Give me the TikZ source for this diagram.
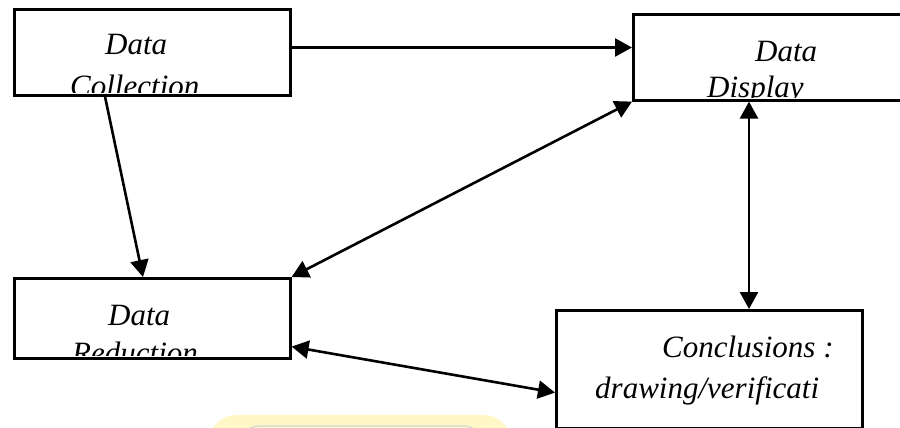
\documentclass[tikz,border=0pt]{standalone}
\usepackage{fontspec}
\setmainfont{Liberation Serif}
\usetikzlibrary{arrows.meta,calc}

\definecolor{bandyellow}{HTML}{FFF7C6}
\definecolor{bandgrey}{HTML}{D2D8D6}

\tikzset{
  boxframe/.style={draw=black, line width=2.6pt, rectangle, inner sep=0pt, anchor=north west},
  boxtext/.style={font=\fontsize{31}{31}\selectfont\itshape, inner sep=0pt, anchor=base west},
  tip/.tip={Triangle[length=17pt,width=18pt]},
  flow/.style={line width=2.6pt, -tip},
  twoway/.style={line width=2.6pt, tip-tip},
}

\begin{document}
\begin{tikzpicture}[x=1pt,y=-1pt]
\path[use as bounding box, clip] (0,0) rectangle (900,428);
\fill[white] (0,0) rectangle (900,428);

% faint yellow band at the bottom edge
\fill[bandyellow, rounded corners=24pt] (205,470) -- (212,415) -- (508,415) -- (515,470) -- cycle;
\draw[bandgrey, line width=1.2pt, rounded corners=14pt] (240,440) -- (245,426) -- (478,426) -- (484,440);

% boxes
\node[boxframe, minimum width=276pt, minimum height=86pt] (coll) at (13,8) {};
\node[boxframe, minimum width=280pt, minimum height=86pt] (disp) at (632,13) {};
\node[boxframe, minimum width=276pt, minimum height=80pt] (red) at (13,277) {};
\node[boxframe, minimum width=306pt, minimum height=118pt] (conc) at (555,309) {};

% box texts, cut off at the lower border of each box
\begin{scope}
  \clip (14.5,9.5) rectangle (287.5,92.5);
  \node[boxtext] (collA) at (105,55) {Data};
  \node[boxtext] (collB) at (70,96.5) {Collection};
\end{scope}
\begin{scope}
  \clip (633.5,14.5) rectangle (900,97.5);
  \node[boxtext] (dispA) at (755,62) {Data};
  \node[boxtext] (dispB) at (707,97.5) {Display};
\end{scope}
\begin{scope}
  \clip (14.5,278.5) rectangle (287.5,355.5);
  \node[boxtext] (redA) at (108,325) {Data};
  \node[boxtext] (redB) at (72,363.5) {Reduction};
\end{scope}
\node[boxtext] (concA) at (662,357) {Conclusions :};
\node[boxtext] (concB) at (595,398) {drawing/verificati};

% connectors
\draw[flow] ([yshift=-39.5pt]coll.north east) -- ([yshift=-34.5pt]disp.north west);
\draw[flow] ([xshift=92pt]coll.south west) -- ([xshift=130pt]red.north west);
\draw[twoway] (disp.south west) -- (red.north east);
\draw[twoway] ([xshift=117pt]disp.south west) -- ([xshift=194pt]conc.north west);
\draw[twoway] ([yshift=13pt]red.south east) -- ([yshift=37pt]conc.south west);
\end{tikzpicture}
\end{document}
